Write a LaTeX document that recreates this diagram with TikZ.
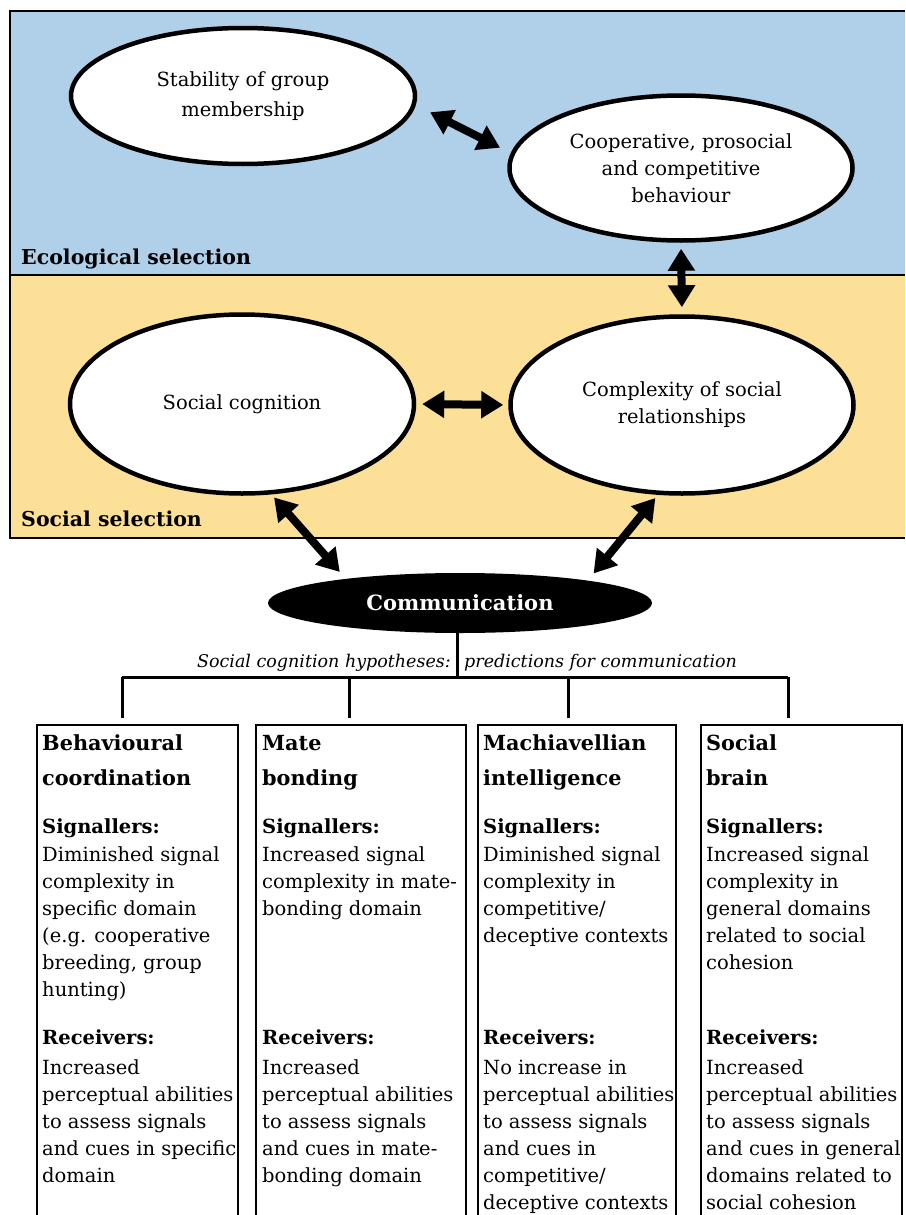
\documentclass[tikz,border=0pt]{standalone}
\usepackage{fontspec}
\setmainfont{DejaVu Serif}
\usetikzlibrary{arrows.meta, positioning, shapes.geometric}
\definecolor{ecoblue}{RGB}{176,207,232}
\definecolor{socyellow}{RGB}{252,224,152}
\newcommand{\boxfont}{\fontsize{19.5}{27}\selectfont}

\begin{document}
\begin{tikzpicture}[
    x=1pt, y=-1pt,
    blob/.style = {ellipse, draw, line width=4.5pt, fill=white, inner sep=0pt, align=center, font=\boxfont},
    pil/.style = {line width=8pt, {Triangle[length=22pt,width=26pt]}-{Triangle[length=22pt,width=26pt]}},
    stem/.style = {line width=3pt},
    hyp/.style = {rectangle, draw, line width=1.5pt, anchor=north west, minimum height=540pt, inner sep=0pt},
    txt/.style = {anchor=base west, align=left, inner sep=0pt, font=\boxfont},
    titel/.style = {anchor=base west, align=left, inner sep=0pt, font=\fontsize{20.8}{35}\selectfont\bfseries},
    zone/.style = {anchor=base west, inner sep=0pt, font=\fontsize{20.5}{24}\selectfont\bfseries},
    hypo/.style = {inner sep=0pt, font=\fontsize{17.5}{22}\selectfont\itshape}
    ]
  \useasboundingbox (0,0) rectangle (905,1215);

  % selection zones
  \fill[ecoblue] (10,11) rectangle (905,275);
  \fill[socyellow] (10,275) rectangle (905,538);
  \draw[line width=2.5pt] (905,11) -- (10,11) -- (10,538) -- (905,538);
  \draw[line width=2.5pt] (10,275) -- (905,275);
  \node[zone] (eco) at (21,264) {Ecological selection};
  \node[zone] (soc) at (21,526) {Social selection};

  \node[blob, minimum width=344pt, minimum height=136pt] (stab) at (243,96) {Stability of group\\[3pt]membership};
  \node[blob, minimum width=343pt, minimum height=145pt] (coop) at (681,168) {Cooperative, prosocial\\and competitive\\behaviour};
  \node[blob, minimum width=344pt, minimum height=179pt] (cogn) at (242,404) {Social cognition};
  \node[blob, minimum width=343pt, minimum height=177pt] (compl) at (682,405) {Complexity of social\\relationships};
  \node[ellipse, fill=black, inner sep=0pt, minimum width=384pt, minimum height=60pt, text=white, font=\fontsize{21}{24}\selectfont\bfseries] (comm) at (460,603) {Communication};

  \draw[pil, shorten <=16pt, shorten >=12pt] (stab.-3) -- (coop.175);
  \draw[pil, shorten <=6pt, shorten >=7pt] (coop.south) -- (compl.north);
  \draw[pil, shorten <=6pt, shorten >=5pt] (cogn.east) -- (compl.west);
  \draw[pil, shorten <=4pt, shorten >=9pt] (cogn.-72) -- (comm.168);
  \draw[pil, shorten <=4pt, shorten >=9pt] (compl.-105) -- (comm.10);

  % hypotheses
  \coordinate (hub) at (457,677);
  \coordinate (d1) at (122,677);
  \coordinate (d2) at (349,677);
  \coordinate (d3) at (568,677);
  \coordinate (d4) at (788,677);
  \node[hypo, anchor=base east] (hyp1) at (451,667) {Social cognition hypotheses:};
  \node[hypo, anchor=base west] (hyp2) at ([xshift=13pt]hyp1.base east) {predictions for communication};

  \node[hyp, minimum width=201pt] (b1) at (36,724) {};
  \node[hyp, minimum width=210pt] (b2) at (255,724) {};
  \node[hyp, minimum width=198pt] (b3) at (477,724) {};
  \node[hyp, minimum width=201pt] (b4) at (700,724) {};

  \draw[stem] (comm.south -| hub) -- (hub);
  \draw[stem] (d1) -- (d4);
  \draw[stem, shorten >=6pt] (d1) -- (d1 |- b1.north);
  \draw[stem, shorten >=6pt] (d2) -- (d2 |- b2.north);
  \draw[stem, shorten >=6pt] (d3) -- (d3 |- b3.north);
  \draw[stem, shorten >=6pt] (d4) -- (d4 |- b4.north);

  % texts sit on the baseline of their last line
  \node[titel] (t1) at (42,785) {Behavioural\\coordination};
  \node[txt] (s1) at (42,996) {\textbf{Signallers:}\\[1pt]Diminished signal\\complexity in\\specific domain\\(e.g. cooperative\\breeding, group\\hunting)};
  \node[txt] (r1) at (42,1182) {\textbf{Receivers:}\\[3pt]Increased\\perceptual abilities\\to assess signals\\and cues in specific\\domain};

  \node[titel] (t2) at (262,785) {Mate\\bonding};
  \node[txt] (s2) at (262,915) {\textbf{Signallers:}\\[1pt]Increased signal\\complexity in mate-\\bonding domain};
  \node[txt] (r2) at (262,1182) {\textbf{Receivers:}\\[3pt]Increased\\perceptual abilities\\to assess signals\\and cues in mate-\\bonding domain};

  \node[titel] (t3) at (483,785) {Machiavellian\\intelligence};
  \node[txt] (s3) at (483,942) {\textbf{Signallers:}\\[1pt]Diminished signal\\complexity in\\competitive/\\deceptive contexts};
  \node[txt] (r3) at (483,1209) {\textbf{Receivers:}\\[3pt]No increase in\\perceptual abilities\\to assess signals\\and cues in\\competitive/\\deceptive contexts};

  \node[titel] (t4) at (706,785) {Social\\brain};
  \node[txt] (s4) at (706,969) {\textbf{Signallers:}\\[1pt]Increased signal\\complexity in\\general domains\\related to social\\cohesion};
  \node[txt] (r4) at (706,1209) {\textbf{Receivers:}\\[3pt]Increased\\perceptual abilities\\to assess signals\\and cues in general\\domains related to\\social cohesion};
\end{tikzpicture}
\end{document}
